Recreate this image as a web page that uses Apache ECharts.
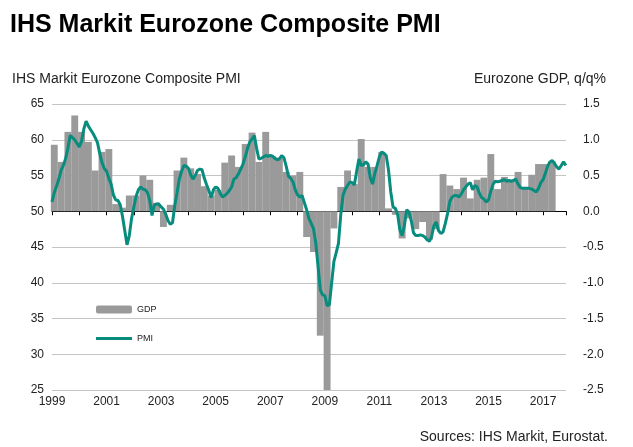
<!DOCTYPE html>
<html>
<head>
<meta charset="utf-8">
<script src="https://cdn.jsdelivr.net/npm/echarts@6/dist/echarts.min.js"></script>
<style>
html,body{margin:0;padding:0;background:#fff;}
#c{width:633px;height:447px;}
</style>
</head>
<body>
<div id="c"></div>
<script>
// Monthly PMI, starting January 1999
var startYear = 1999;
var pmi = [
  51.3, 52.6, 53.5, 54.5, 55.7, 56.4, 57.4, 58.8, 60.6, 60.3, 60.0, 59.5,
  59.0, 59.8, 61.5, 62.6, 61.9, 61.4, 60.9, 60.3, 59.6, 58.1, 56.8, 56.0,
  55.6, 54.6, 53.8, 52.3, 51.6, 51.5, 50.9, 49.3, 47.3, 45.3, 46.6, 49.0,
  50.6, 52.1, 53.0, 53.4, 53.1, 53.0, 52.6, 51.5, 49.4, 50.9, 51.0, 51.0,
  50.6, 50.3, 49.6, 48.7, 48.2, 48.4, 50.8, 52.6, 54.5, 55.6, 56.4, 56.3,
  56.0, 55.1, 54.5, 55.0, 55.7, 55.9, 55.8, 54.6, 53.7, 52.9, 51.9, 53.0,
  53.4, 53.2, 52.5, 52.0, 52.2, 52.5, 52.9, 53.4, 54.5, 54.7, 55.2, 55.9,
  56.6, 57.6, 58.8, 59.7, 60.1, 60.6, 58.8, 57.3, 57.4, 57.6, 57.8, 57.7,
  57.8, 57.7, 57.4, 57.2, 57.3, 57.8, 57.5, 56.3, 54.9, 54.6, 54.1, 53.0,
  52.3, 52.0, 52.2, 51.2, 50.2, 49.0, 48.3, 47.6, 45.6, 42.4, 39.0, 38.3,
  38.2, 36.8, 36.9, 40.0, 43.0, 44.2, 45.5, 49.5, 52.2, 53.1, 53.6, 54.1,
  54.0, 53.7, 55.6, 57.3, 56.4, 56.5, 56.9, 56.6, 54.7, 53.8, 55.3, 56.4,
  57.6, 58.3, 58.1, 57.8, 55.8, 52.7, 50.6, 50.4, 49.6, 47.4, 46.6, 48.0,
  50.2, 49.9, 48.7, 47.0, 46.6, 46.6, 46.7, 46.6, 46.4, 46.0, 45.8, 46.5,
  48.0, 48.5, 47.3, 46.9, 47.1, 48.3, 49.7, 51.4, 52.0, 52.2, 52.2, 52.0,
  52.4, 53.0, 53.4, 53.8, 54.0, 53.0, 53.6, 53.4, 52.5, 51.9, 51.7, 51.3,
  51.6, 52.8, 53.8, 54.2, 54.1, 54.2, 54.3, 54.4, 54.2, 54.3, 54.2, 54.3,
  54.5, 53.8, 53.3, 53.2, 53.2, 53.2, 53.2, 53.1, 52.9, 52.7, 53.2, 54.0,
  54.4, 55.3, 56.3, 56.9, 57.1, 56.7, 56.2, 55.9, 56.4, 56.9, 56.4
];
// Quarterly GDP q/q %, starting 1999 Q1
var gdp = [
  0.93, 0.69, 1.11, 1.34,
  1.11, 0.97, 0.57, 0.83,
  0.87, 0.10, 0.05, 0.22,
  0.22, 0.50, 0.44, 0.12,
  -0.22, 0.09, 0.57, 0.75,
  0.60, 0.52, 0.35, 0.22,
  0.30, 0.68, 0.78, 0.62,
  0.94, 1.10, 0.69, 1.11,
  0.77, 0.75, 0.55, 0.50,
  0.55, -0.36, -0.57, -1.74,
  -2.5, -0.24, 0.34, 0.57,
  0.38, 1.01, 0.62, 0.62,
  0.83, 0.04, -0.05, -0.38,
  -0.10, -0.25, -0.15, -0.40,
  -0.25, 0.52, 0.36, 0.31,
  0.47, 0.18, 0.44, 0.47,
  0.80, 0.31, 0.48, 0.44,
  0.55, 0.34, 0.51, 0.66,
  0.66, 0.70
];
var leftTicks = [25, 30, 35, 40, 45, 50, 55, 60, 65];
var rightTicks = [-2.5, -2.0, -1.5, -1.0, -0.5, 0.0, 0.5, 1.0, 1.5];
var yearLabels = [1999, 2001, 2003, 2005, 2007, 2009, 2011, 2013, 2015, 2017];

var pmiData = pmi.map(function (v, i) { return [startYear + i / 12, v]; });
var gdpData = gdp.map(function (v, k) { return [startYear + (3 * k + 1) / 12, v]; });

var FONT = "'Liberation Sans', Arial, sans-serif";
var TEAL = '#078c7e';
var chart = echarts.init(document.getElementById('c'), null, {renderer: 'canvas'});
chart.setOption({
  animation: false,
  backgroundColor: '#ffffff',
  textStyle: {fontFamily: FONT},
  title: [
    {text: 'IHS Markit Eurozone Composite PMI', left: 5, top: 8,
     textStyle: {fontFamily: FONT, fontSize: 25, fontWeight: 'bold', color: '#000'}},
    {text: 'IHS Markit Eurozone Composite PMI', left: 7, top: 67,
     textStyle: {fontFamily: FONT, fontSize: 14, fontWeight: 'normal', color: '#222'}},
    {text: 'Eurozone GDP, q/q%', right: 22, top: 67,
     textStyle: {fontFamily: FONT, fontSize: 14, fontWeight: 'normal', color: '#222'}},
    {text: 'Sources: IHS Markit, Eurostat.', right: 20, top: 425,
     textStyle: {fontFamily: FONT, fontSize: 14, fontWeight: 'normal', color: '#222'}}
  ],
  legend: {
    orient: 'vertical', left: 96, top: 305, padding: 0, itemGap: 20,
    itemWidth: 36, itemHeight: 8, symbolKeepAspect: true,
    textStyle: {fontFamily: FONT, fontSize: 9, color: '#222'},
    data: [
      {name: 'GDP', icon: 'roundRect'},
      {name: 'PMI', icon: 'path://M0 0 L36 0 L36 3 L0 3 Z', itemStyle: {color: TEAL}}
    ]
  },
  grid: {left: 52, right: 67, top: 104, bottom: 57, containLabel: false},
  xAxis: {
    type: 'value', min: 1999, max: 2017.84, interval: 1,
    axisLine: {show: true, lineStyle: {color: '#000', width: 1}},
    axisTick: {show: true, inside: false, length: 4, lineStyle: {color: '#000'}},
    splitLine: {show: false},
    axisLabel: {
      color: '#222', fontSize: 12, fontFamily: FONT, margin: 6,
      formatter: function (v) {
        var y = Math.round(v);
        return yearLabels.indexOf(y) >= 0 && Math.abs(v - y) < 1e-6 ? String(y) : '';
      }
    }
  },
  yAxis: [
    {
      type: 'value', min: leftTicks[0], max: leftTicks[leftTicks.length - 1], interval: 5,
      axisLine: {show: false}, axisTick: {show: false},
      splitLine: {show: true, lineStyle: {color: '#c4c4c4', width: 1}},
      axisLabel: {color: '#222', fontSize: 12, fontFamily: FONT, margin: 8}
    },
    {
      type: 'value', min: rightTicks[0], max: rightTicks[rightTicks.length - 1], interval: 0.5,
      position: 'right',
      axisLine: {show: false}, axisTick: {show: false}, splitLine: {show: false},
      axisLabel: {color: '#222', fontSize: 12, fontFamily: FONT, margin: 17,
        formatter: function (v) { return v.toFixed(1); }}
    }
  ],
  series: [
    {
      name: 'GDP', type: 'bar', yAxisIndex: 1, data: gdpData,
      barWidth: 6.9, clip: true,
      itemStyle: {color: '#9a9a9a'}, z: 1
    },
    {
      name: 'PMI', type: 'line', yAxisIndex: 0, data: pmiData,
      symbol: 'none', showSymbol: false, clip: true,
      lineStyle: {color: TEAL, width: 3},
      itemStyle: {color: TEAL}, z: 3
    }
  ]
});
</script>
</body>
</html>
